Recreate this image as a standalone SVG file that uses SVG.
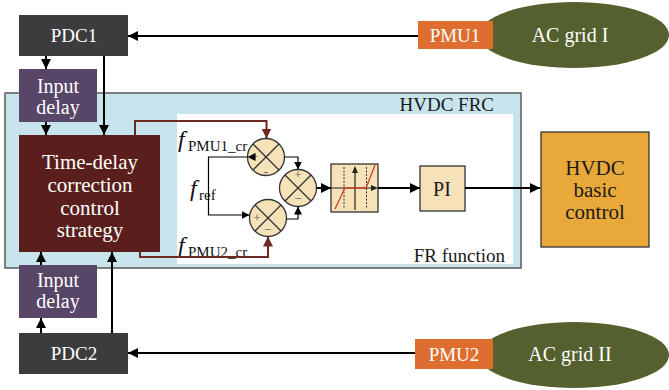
<svg xmlns="http://www.w3.org/2000/svg" width="669" height="390" viewBox="0 0 669 390" font-family="'Liberation Serif','Times New Roman',serif">
<defs>
<marker id="ah" viewBox="0 0 10 10" refX="10" refY="5" markerWidth="10" markerHeight="10" markerUnits="userSpaceOnUse" orient="auto"><path d="M0,0 L10,5 L0,10 z" fill="#000"/></marker>
<marker id="ahs" viewBox="0 0 10 10" refX="10" refY="5" markerWidth="8" markerHeight="8" markerUnits="userSpaceOnUse" orient="auto"><path d="M0,0 L10,5 L0,10 z" fill="#000"/></marker>
<marker id="ahm" viewBox="0 0 10 10" refX="10" refY="5" markerWidth="10" markerHeight="10" markerUnits="userSpaceOnUse" orient="auto"><path d="M0,0 L10,5 L0,10 z" fill="#6e2a22"/></marker>
</defs>
<style>
text{font-family:'Liberation Serif','Times New Roman',serif;}
.w{fill:#fff;font-size:20px;text-anchor:middle;}
.k{fill:#1a1a1a;font-size:20px;text-anchor:middle;}
.dark{fill:#3c3c3e;}
.purp{fill:#574668;}
.pmu{fill:#de6e30;}
.grid{fill:#55602f;}
.tan{fill:#f6e2b8;stroke:#333;stroke-width:1.3;}
.ln{fill:none;stroke:#000;stroke-width:2;}
.thin{fill:none;stroke:#000;stroke-width:1.2;}
.mr{fill:none;stroke:#6e2a22;stroke-width:2;}
.it{font-style:italic;font-size:24px;fill:#111;}
.sub{font-size:15px;fill:#111;}
.sg{font-size:13px;fill:#555;text-anchor:middle;}
</style>

<g id="frc">
<rect x="5" y="93" width="516" height="175" fill="#c8e4ec" stroke="#5a5a5a" stroke-width="1.5"/>
<rect x="177" y="114" width="336" height="150" fill="#fff"/>
<text x="494" y="111" style="font-size:19px;fill:#1a1a1a;text-anchor:end">HVDC FRC</text>
<text x="505" y="262" style="font-size:19px;fill:#1a1a1a;text-anchor:end">FR function</text>
</g>

<g id="ac1"><ellipse cx="574" cy="35" rx="95" ry="33" class="grid"/><text x="570" y="42" class="w">AC grid I</text></g>
<g id="ac2"><ellipse cx="574" cy="355" rx="95" ry="33" class="grid"/><text x="570" y="361" class="w">AC grid II</text></g>
<g id="pmu1"><rect x="418" y="21" width="75" height="28" class="pmu"/><text x="455" y="42" class="w" style="font-size:19px">PMU1</text></g>
<g id="pmu2"><rect x="415" y="339" width="78" height="30" class="pmu"/><text x="454" y="361" class="w" style="font-size:19px">PMU2</text></g>
<g id="pdc1"><rect x="19" y="15" width="109" height="41" class="dark"/><text x="74" y="42" class="w" style="font-size:19px">PDC1</text></g>
<g id="pdc2"><rect x="19" y="333" width="109" height="41" class="dark"/><text x="74" y="360" class="w" style="font-size:19px">PDC2</text></g>
<g id="delay1"><rect x="19" y="69" width="78" height="53" class="purp"/><text x="58" y="93" class="w">Input</text><text x="58" y="114" class="w">delay</text></g>
<g id="delay2"><rect x="19" y="265" width="78" height="53" class="purp"/><text x="58" y="287" class="w">Input</text><text x="58" y="308" class="w">delay</text></g>
<g id="tdc"><rect x="19" y="135" width="141" height="117" fill="#5a1f1c"/>
<text x="90" y="169" class="w" style="font-size:21px">Time-delay</text><text x="90" y="192" class="w" style="font-size:21px">correction</text><text x="90" y="215" class="w" style="font-size:21px">control</text><text x="90" y="237" class="w" style="font-size:21px">strategy</text></g>
<g id="hvdc"><rect x="541" y="132" width="108" height="115" fill="#e8a93a" stroke="#333" stroke-width="1.3"/>
<text x="595" y="175" class="k" style="font-size:21px">HVDC</text><text x="595" y="197" class="k" style="font-size:21px">basic</text><text x="595" y="219" class="k" style="font-size:21px">control</text></g>

<g id="sum1"><circle cx="266" cy="157" r="18.5" class="tan"/><path d="M253,144 L279,170 M279,144 L253,170" stroke="#333" stroke-width="1.3"/><text x="255" y="161" class="sg">+</text><text x="266" y="176" class="sg">-</text></g>
<g id="sum2"><circle cx="298" cy="188" r="18.5" class="tan"/><path d="M285,175 L311,201 M311,175 L285,201" stroke="#333" stroke-width="1.3"/><text x="298" y="179" class="sg">+</text><text x="298" y="203" class="sg">−</text></g>
<g id="sum3"><circle cx="268" cy="218" r="18.5" class="tan"/><path d="M255,205 L281,231 M281,205 L255,231" stroke="#333" stroke-width="1.3"/><text x="257" y="222" class="sg">+</text><text x="268" y="234" class="sg">−</text></g>

<g id="dead"><rect x="331" y="164" width="47" height="48" class="tan"/>
<path d="M344,167 V209 M366.5,167 V209" stroke="#333" stroke-width="1" stroke-dasharray="2,1.5"/>
<path d="M355,210 V171" stroke="#222" stroke-width="1.2"/><path d="M352,173 L355,166 L358,173 z" fill="#222"/>
<path d="M331,188 H372" stroke="#222" stroke-width="1.2"/><path d="M371,185 L378,188 L371,191 z" fill="#222"/>
<path d="M335,209 L345,188 H366 L375,165" fill="none" stroke="#d0402a" stroke-width="1.3"/></g>

<g id="pi"><rect x="420" y="166" width="45" height="45" class="tan"/><text x="442" y="196" class="k">PI</text></g>

<g id="labels">
<text x="178" y="147" class="it">f</text><text x="188" y="151" class="sub">PMU1_cr</text>
<text x="190" y="196" class="it">f</text><text x="199" y="200" class="sub">ref</text>
<text x="178" y="253" class="it">f</text><text x="188" y="257" class="sub">PMU2_cr</text>
</g>

<g id="connectors">
<line x1="418" y1="36" x2="128" y2="36" class="ln" marker-end="url(#ah)"/>
<line x1="415" y1="353" x2="128" y2="353" class="ln" marker-end="url(#ah)"/>
<line x1="46" y1="56" x2="46" y2="69" class="ln" marker-end="url(#ah)"/>
<line x1="46" y1="122" x2="46" y2="135" class="ln" marker-end="url(#ah)"/>
<line x1="104" y1="56" x2="104" y2="135" class="ln" marker-end="url(#ah)"/>
<line x1="41" y1="333" x2="41" y2="318" class="ln" marker-end="url(#ah)"/>
<line x1="41" y1="265" x2="41" y2="252" class="ln" marker-end="url(#ah)"/>
<line x1="112" y1="333" x2="112" y2="252" class="ln" marker-end="url(#ah)"/>
<path d="M135,135 V121 H266.5 V138.5" class="mr" marker-end="url(#ahm)"/>
<path d="M140,252 V257 H268 V236.5" class="mr" marker-end="url(#ahm)"/>
<path d="M247.5,157 H208.5 V215 H249.5" class="thin" marker-start="url(#ahs)" marker-end="url(#ahs)"/>
<path d="M284.5,157 H298 V169.5" class="thin" marker-end="url(#ahs)"/>
<path d="M286.5,219 H298 V206.5" class="thin" marker-end="url(#ahs)"/>
<line x1="316.5" y1="188" x2="331" y2="188" class="ln" marker-end="url(#ah)"/>
<line x1="378" y1="188" x2="420" y2="188" class="ln" marker-end="url(#ah)"/>
<line x1="465" y1="188" x2="540" y2="188" class="ln" marker-end="url(#ah)"/>
</g>
</svg>
